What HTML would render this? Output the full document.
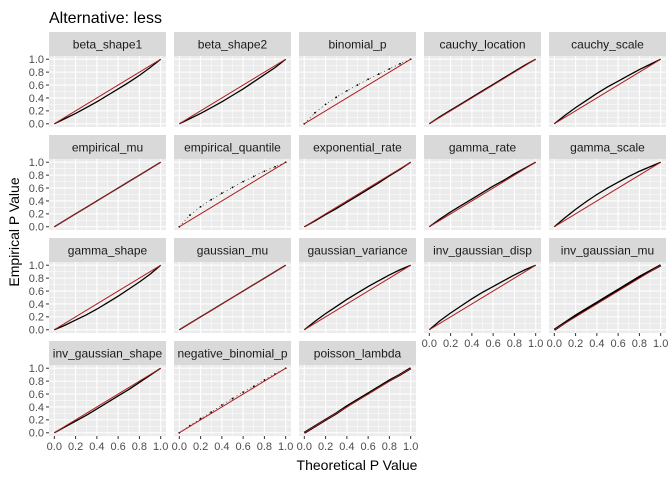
<!DOCTYPE html>
<html><head><meta charset="utf-8"><style>
body{margin:0;background:#fff;}
svg{display:block;font-family:"Liberation Sans",Arial,sans-serif;}
</style></head><body>
<svg id="chart" width="672" height="480" viewBox="0 0 672 480">
<rect width="672" height="480" fill="#fff"/>
<text x="49" y="23" font-size="16" fill="#000">Alternative: less</text>
<text x="357" y="470" font-size="14" fill="#000" text-anchor="middle">Theoretical P Value</text>
<text transform="translate(19,232) rotate(-90)" font-size="14" fill="#000" text-anchor="middle">Empirical P Value</text>
<g id="panels"></g>
</svg>
<script>
const panelNames = ["beta_shape1","beta_shape2","binomial_p","cauchy_location","cauchy_scale",
"empirical_mu","empirical_quantile","exponential_rate","gamma_rate","gamma_scale",
"gamma_shape","gaussian_mu","gaussian_variance","inv_gaussian_disp","inv_gaussian_mu",
"inv_gaussian_shape","negative_binomial_p","poisson_lambda"];
const theoretical = [0,0.1,0.2,0.3,0.4,0.5,0.6,0.7,0.8,0.9,1];
const empBetaShape1 = [0,0.08,0.16,0.25,0.34,0.44,0.54,0.64,0.75,0.87,1];
const empBetaShape2 = [0,0.08,0.16,0.25,0.34,0.44,0.54,0.65,0.76,0.87,1];
const empBinomialP = [0,0.17,0.3,0.41,0.51,0.6,0.69,0.77,0.85,0.93,1];
const empCauchyLocation = [0,0.11,0.21,0.31,0.41,0.51,0.61,0.71,0.81,0.91,1];
const empCauchyScale = [0,0.13,0.25,0.36,0.47,0.57,0.66,0.75,0.84,0.92,1];
const empEmpiricalMu = [0,0.1,0.2,0.3,0.4,0.5,0.6,0.7,0.8,0.9,1];
const empEmpiricalQuantile = [0,0.18,0.31,0.42,0.52,0.61,0.7,0.78,0.86,0.93,1];
const empExponentialRate = [0,0.09,0.19,0.28,0.38,0.48,0.58,0.68,0.79,0.89,1];
const empGammaRate = [0,0.12,0.23,0.33,0.43,0.53,0.63,0.72,0.82,0.91,1];
const empGammaScale = [0,0.14,0.27,0.39,0.5,0.6,0.69,0.78,0.86,0.93,1];
const empGammaShape = [0,0.07,0.15,0.23,0.32,0.42,0.52,0.63,0.74,0.86,1];
const empGaussianMu = [0,0.1,0.2,0.3,0.4,0.5,0.6,0.7,0.8,0.9,1];
const empGaussianVariance = [0,0.13,0.25,0.36,0.47,0.57,0.67,0.76,0.85,0.93,1];
const empInvGaussianDisp = [0,0.14,0.26,0.37,0.48,0.58,0.67,0.76,0.85,0.93,1];
const empInvGaussianMu = [0,0.11,0.22,0.32,0.42,0.52,0.62,0.72,0.82,0.91,1];
const empInvGaussianShape = [0,0.09,0.18,0.27,0.37,0.47,0.57,0.67,0.78,0.89,1];
const empNegBinomialP = [0,0.11,0.22,0.32,0.43,0.53,0.63,0.72,0.82,0.91,1];
const empPoissonLambda = [0,0.1,0.2,0.3,0.41,0.51,0.61,0.71,0.81,0.9,1];
const series = [empBetaShape1,empBetaShape2,empBinomialP,empCauchyLocation,empCauchyScale,
empEmpiricalMu,empEmpiricalQuantile,empExponentialRate,empGammaRate,empGammaScale,
empGammaShape,empGaussianMu,empGaussianVariance,empInvGaussianDisp,empInvGaussianMu,
empInvGaussianShape,empNegBinomialP,empPoissonLambda];
const dotPanels = ["binomial_p","empirical_quantile","negative_binomial_p"];
const thickPanels = ["inv_gaussian_mu","poisson_lambda"];
const tickLabels = ["0.0","0.2","0.4","0.6","0.8","1.0"];
const tickValues = [0,0.2,0.4,0.6,0.8,1.0];
const minorValues = [0.1,0.3,0.5,0.7,0.9];

const NS="http://www.w3.org/2000/svg";
const g=document.getElementById('panels');
function mk(tag,attrs,parent){const e=document.createElementNS(NS,tag);for(const k in attrs)e.setAttribute(k,attrs[k]);(parent||g).appendChild(e);return e;}
const PW=117,PH=71,SH=24,X0=49,Y0=32,PX=125,PY=103;
panelNames.forEach((name,i)=>{
  const col=i%5,row=Math.floor(i/5);
  const left=X0+col*PX, top=Y0+row*PY, ptop=top+SH;
  const sx=v=>left+PW*(0.05+0.9*v/1)/1*1; 
  const xs=v=>left+PW*(0.05/1.1*1.1/1.1)+ (PW/1.1)*v; // expand 5%
  const ys=v=>ptop+PH-(PH*0.05/1.1*1.0)-(PH/1.1)*v;
  const pg=mk('g',{});
  
  
  const strip=mk('rect',{x:left,y:top,width:PW,height:SH,fill:'#D9D9D9'},pg);
  
  
  const st=mk('text',{x:left+PW/2,y:top+16.5,'font-size':12,fill:'#1A1A1A','text-anchor':'middle'},pg);
  st.textContent=name;
  
  
  mk('rect',{x:left,y:ptop,width:PW,height:PH,fill:'#EBEBEB'},pg);
  minorValues.forEach(v=>{
    mk('line',{x1:left,x2:left+PW,y1:ys(v),y2:ys(v),stroke:'#fff','stroke-width':0.5},pg);
    mk('line',{y1:ptop,y2:ptop+PH,x1:xs(v),x2:xs(v),stroke:'#fff','stroke-width':0.5},pg);
  });
  tickValues.forEach(v=>{
    mk('line',{x1:left,x2:left+PW,y1:ys(v),y2:ys(v),stroke:'#fff','stroke-width':1.1},pg);
    mk('line',{y1:ptop,y2:ptop+PH,x1:xs(v),x2:xs(v),stroke:'#fff','stroke-width':1.1},pg);
  });
  const vals=series[i];
  const ref=mk('line',{x1:xs(0),y1:ys(0),x2:xs(1),y2:ys(1),stroke:'#B22222','stroke-width':0.9},pg);
  
  
  if(dotPanels.includes(name)){
    theoretical.forEach((t,j)=>{
      const d=mk('circle',{cx:xs(t),cy:ys(vals[j]),r:0.9,fill:'#000'},pg);
      
      
    });
    const pl=mk('polyline',{points:theoretical.map((t,j)=>xs(t)+','+ys(vals[j])).join(' '),fill:'none',stroke:'#000','stroke-width':0.6,'stroke-dasharray':'1 3'},pg);
    
    
  } else {
    const pl=mk('polyline',{points:theoretical.map((t,j)=>xs(t)+','+ys(vals[j])).join(' '),fill:'none',stroke:'#000','stroke-width':thickPanels.includes(name)?2.2:1.3},pg);
    
    
  }
  mk('line',{x1:xs(0),y1:ys(0),x2:xs(1),y2:ys(1),stroke:'#B22222','stroke-width':0.8},pg);
  if(col===0){
    tickValues.forEach((v,k)=>{
      mk('line',{x1:left-3,x2:left,y1:ys(v),y2:ys(v),stroke:'#333','stroke-width':1},pg);
      const t=mk('text',{x:left-5,y:ys(v)+3.8,'font-size':11,fill:'#4D4D4D','text-anchor':'end'},pg);
      t.textContent=tickLabels[k];
      
      
    });
  }
  const bottom=(row===3)||(row===2&&col>=3);
  if(bottom){
    tickValues.forEach((v,k)=>{
      mk('line',{x1:xs(v),x2:xs(v),y1:ptop+PH,y2:ptop+PH+3,stroke:'#333','stroke-width':1},pg);
      const t=mk('text',{x:xs(v),y:ptop+PH+14,'font-size':11,fill:'#4D4D4D','text-anchor':'middle'},pg);
      t.textContent=tickLabels[k];
      
      
    });
  }
});
</script>
</body></html>
